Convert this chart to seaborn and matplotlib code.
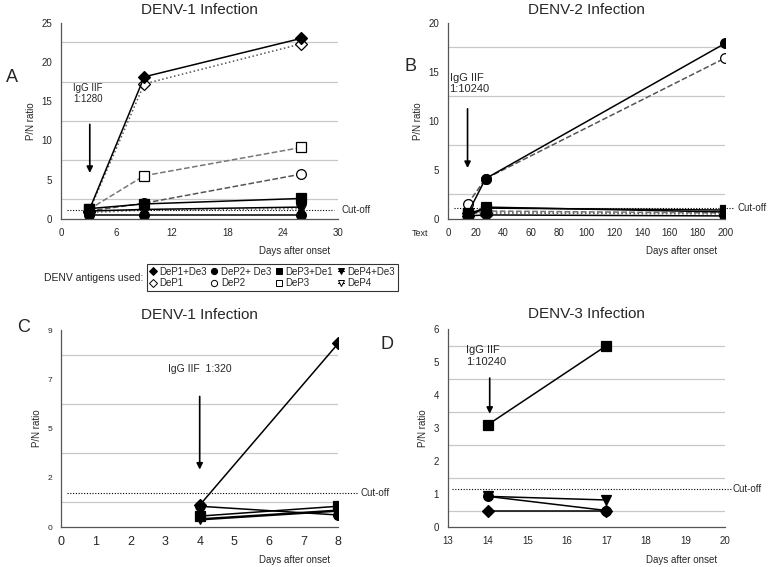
import numpy as np
import pandas as pd
import seaborn as sns
import matplotlib.pyplot as plt
from matplotlib.lines import Line2D

# ---- data ----
series_names = ["DeP1+De3", "DeP1", "DeP2+ De3", "DeP2", "DeP3+De1", "DeP3", "DeP4+De3", "DeP4"]

# panel A: DENV-1 infection
a_days = [3, 9, 26]
a_vals = {
    "DeP1+De3": [1.0, 18.1, 23.0],
    "DeP1": [0.9, 17.2, 22.3],
    "DeP2+ De3": [0.5, 0.5, 0.5],
    "DeP2": [1.0, 2.0, 5.7],
    "DeP3+De1": [1.3, 1.9, 2.6],
    "DeP3": [1.2, 5.5, 9.1],
    "DeP4+De3": [1.0, 1.2, 1.5],
    "DeP4": [0.8, 1.1, 1.3],
}
a_cutoff = 1.15

# panel B: DENV-2 infection
b_days = [14, 27, 200]
b_vals = {
    "DeP1+De3": [0.3, 0.4, 0.3],
    "DeP1": [0.6, 0.6, 0.5],
    "DeP2+ De3": [0.5, 4.1, 17.9],
    "DeP2": [1.5, 4.1, 16.4],
    "DeP3+De1": [0.5, 1.1, 0.9],
    "DeP3": [0.6, 0.8, 0.6],
    "DeP4+De3": [0.2, 1.2, 0.7],
    "DeP4": [0.5, 0.7, 0.6],
}
b_cutoff = 1.08

# panel C: DENV-1 infection
c_days = [4, 8]
c_vals = {
    "DeP1+De3": [1.0, 8.4],
    "DeP2+ De3": [0.95, 0.55],
    "DeP3+De1": [0.5, 0.95],
    "DeP4+De3": [0.35, 0.75],
}
c_cutoff = 1.55

# panel D: DENV-3 infection
d_days = [14, 17]
d_vals = {
    "DeP3+De1": [3.1, 5.5],
    "DeP2+ De3": [0.93, 0.5],
    "DeP4+De3": [0.93, 0.82],
    "DeP1+De3": [0.5, 0.5],
}
d_cutoff = 1.15

# ---- styles ----
styles = {
    "DeP1+De3": dict(marker="D", mfc="black", color="black", ls="-", ms=6),
    "DeP1": dict(marker="D", mfc="white", color="#555555", ls=":", ms=6),
    "DeP2+ De3": dict(marker="o", mfc="black", color="black", ls="-", ms=7),
    "DeP2": dict(marker="o", mfc="white", color="#555555", ls="--", ms=7),
    "DeP3+De1": dict(marker="s", mfc="black", color="black", ls="-", ms=6.5),
    "DeP3": dict(marker="s", mfc="white", color="#777777", ls="--", ms=6.5),
    "DeP4+De3": dict(marker="v", mfc="black", color="black", ls="-", ms=7),
    "DeP4": dict(marker="v", mfc="white", color="#777777", ls=":", ms=7),
}

sns.set_style("white")
plt.rcParams["font.family"] = ["Liberation Sans", "DejaVu Sans"]

fig = plt.figure(figsize=(7.74, 5.67), dpi=100)
axA = fig.add_axes([0.079, 0.614, 0.358, 0.346])
axB = fig.add_axes([0.579, 0.614, 0.358, 0.346])
axC = fig.add_axes([0.079, 0.0705, 0.358, 0.347])
axD = fig.add_axes([0.579, 0.0705, 0.358, 0.349])


def draw(ax, days, vals, order):
    for name in order:
        if name not in vals:
            continue
        st = styles[name]
        df = pd.DataFrame({"day": days, "ratio": vals[name]})
        sns.lineplot(data=df, x="day", y="ratio", ax=ax, color=st["color"],
                     linestyle=st["ls"], lw=1.1, marker=st["marker"],
                     markersize=st["ms"], markerfacecolor=st["mfc"],
                     markeredgecolor="black", markeredgewidth=0.9)


def style_axis(ax, xlim, xticks, ylim, yticks, minor, ticksize=7, xticksize=7):
    ax.set_xlim(*xlim)
    ax.set_ylim(*ylim)
    ax.set_xticks(xticks)
    ax.set_yticks(yticks)
    ax.set_yticks(minor, minor=True)
    ax.grid(False)
    ax.yaxis.grid(True, which="minor", color="#c8c8c8", lw=0.9)
    ax.tick_params(axis="y", which="minor", length=0)
    ax.tick_params(axis="both", which="major", length=3, width=0.8, color="#555555")
    ax.tick_params(axis="y", labelsize=ticksize)
    ax.tick_params(axis="x", labelsize=xticksize)
    for s in ["top", "right"]:
        ax.spines[s].set_visible(False)
    for s in ["left", "bottom"]:
        ax.spines[s].set_color("#555555")
        ax.spines[s].set_linewidth(0.9)
    ax.set_xlabel("")
    ax.set_ylabel("P/N ratio", fontsize=7)
    ax.text(0.97, -0.14, "Days after onset", transform=ax.transAxes, ha="right",
            va="top", fontsize=7)


def cutoff(ax, y, x0, x1, tx):
    ax.axhline(y, xmin=x0, xmax=x1, color="black", ls=(0, (1, 1.5)), lw=0.8, clip_on=False)
    ax.text(tx, y, "Cut-off", transform=ax.get_yaxis_transform(), ha="left",
            va="center", fontsize=7)


order_front = ["DeP1", "DeP2", "DeP3", "DeP4", "DeP4+De3", "DeP3+De1", "DeP2+ De3", "DeP1+De3"]

# A
draw(axA, a_days, a_vals, order_front)
style_axis(axA, (0, 30), [0, 6, 12, 18, 24, 30], (0, 25), [0, 5, 10, 15, 20, 25],
           [2.5, 7.5, 12.5, 17.5, 22.5])
cutoff(axA, a_cutoff, 0.02, 0.985, 1.01)
axA.set_title("DENV-1 Infection", fontsize=11, pad=6)
axA.text(1.3, 14.6, "IgG IIF\n1:1280", fontsize=7, va="bottom", ha="left")
axA.annotate("", xy=(3.1, 5.5), xytext=(3.1, 12.4),
             arrowprops=dict(arrowstyle="-|>", color="black", lw=1.2, mutation_scale=9))
fig.text(0.008, 0.855, "A", fontsize=13)

# B
draw(axB, b_days, b_vals, order_front)
style_axis(axB, (0, 200), list(range(0, 201, 20)), (0, 20), [0, 5, 10, 15, 20],
           [2.5, 7.5, 12.5, 17.5])
cutoff(axB, b_cutoff, 0.02, 1.03, 1.045)
axB.set_title("DENV-2 Infection", fontsize=11, pad=6)
axB.text(1, 12.7, "IgG IIF\n1:10240", fontsize=8, va="bottom", ha="left")
axB.annotate("", xy=(14, 4.9), xytext=(14, 11.5),
             arrowprops=dict(arrowstyle="-|>", color="black", lw=1.2, mutation_scale=9))
axB.text(-0.07, -0.05, "Text", transform=axB.transAxes, fontsize=6.5, ha="right", va="top")
fig.text(0.523, 0.875, "B", fontsize=13)

# C
draw(axC, c_days, c_vals, order_front)
style_axis(axC, (0, 8), list(range(0, 9)), (0, 9), [0, 2.25, 4.5, 6.75, 9],
           [1.125, 3.375, 5.625, 7.875], ticksize=6, xticksize=9)
axC.set_yticklabels(["0", "2", "5", "7", "9"])
cutoff(axC, c_cutoff, 0.02, 1.07, 1.08)
axC.set_title("DENV-1 Infection", fontsize=11, pad=8)
axC.text(4, 7.0, "IgG IIF  1:320", fontsize=7.5, ha="center", va="bottom")
axC.annotate("", xy=(4, 2.5), xytext=(4, 6.1),
             arrowprops=dict(arrowstyle="-|>", color="black", lw=1.2, mutation_scale=9))
axC.lines[0].set_linewidth(1.8)
fig.text(0.022, 0.415, "C", fontsize=13)

# D
draw(axD, d_days, d_vals, order_front)
style_axis(axD, (13, 20), list(range(13, 21)), (0, 6), list(range(0, 7)),
           [0.5, 1.5, 2.5, 3.5, 4.5, 5.5])
cutoff(axD, d_cutoff, 0.015, 1.025, 1.025)
axD.set_title("DENV-3 Infection", fontsize=11, pad=8)
axD.text(13.45, 4.85, "IgG IIF\n1:10240", fontsize=8, ha="left", va="bottom")
axD.annotate("", xy=(14.05, 3.35), xytext=(14.05, 4.6),
             arrowprops=dict(arrowstyle="-|>", color="black", lw=1.2, mutation_scale=9))
fig.text(0.492, 0.385, "D", fontsize=13)

# legend
handles = []
for name in series_names:
    st = styles[name]
    handles.append(Line2D([0], [0], color="black", lw=0.8, marker=st["marker"],
                          markersize=4.5, markerfacecolor=st["mfc"],
                          markeredgecolor="black", markeredgewidth=0.7))
leg = fig.legend(handles, series_names, ncol=4, loc="center",
                 bbox_to_anchor=(0.352, 0.511), fontsize=7, frameon=True,
                 fancybox=False, edgecolor="black", handlelength=0.6,
                 handletextpad=0.4, columnspacing=0.45, borderpad=0.3,
                 labelspacing=0.15, borderaxespad=0)
leg.get_frame().set_linewidth(0.8)
fig.text(0.185, 0.51, "DENV antigens used:", fontsize=7.5, ha="right", va="center")

fig.savefig("out.png", dpi=100)
